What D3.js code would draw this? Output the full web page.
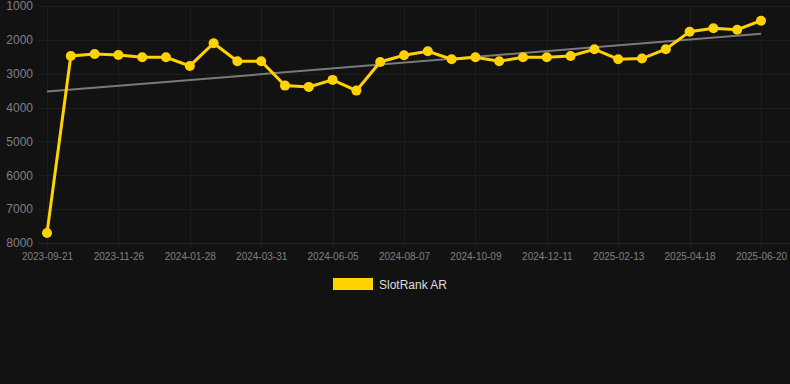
<!DOCTYPE html>
<html>
<head>
<meta charset="utf-8">
<script src="https://cdn.jsdelivr.net/npm/d3@7"></script>
<style>
  html, body { margin: 0; padding: 0; background: #121212; }
  svg { display: block; font-family: "Liberation Sans", Arial, sans-serif; }
</style>
</head>
<body>
<svg id="svg" width="790" height="384"></svg>
<script>
// rank values, one point every ~3 weeks
const rankValues = [7706, 2475, 2416, 2445, 2513, 2513, 2770, 2100, 2631, 2631,
  3351, 3389, 3183, 3499, 2652, 2455, 2336, 2572, 2513, 2631,
  2513, 2513, 2475, 2277, 2572, 2553, 2277, 1758, 1658, 1699, 1434]
const tickLabels = ['2023-09-21', '2023-11-26', '2024-01-28', '2024-03-31', '2024-06-05',
  '2024-08-07', '2024-10-09', '2024-12-11', '2025-02-13', '2025-04-18', '2025-06-20']
const yTicks = [1000, 2000, 3000, 4000, 5000, 6000, 7000, 8000]
const trendValues = [3528, 1817]
const seriesName = 'SlotRank AR'

const svg = d3.select('#svg')
const width = 790
const plotLeft = 38, plotTop = 6, plotBottom = 243, plotRight = 790

const x = d3.scalePoint()
  .domain(d3.range(rankValues.length))
  .range([47, 761])
const y = d3.scaleLinear().domain([1000, 8000]).range([plotTop, plotBottom])

svg.append('rect').attr('width', width).attr('height', 384).attr('fill', '#121212')

// grid
const grid = svg.append('g')
grid.selectAll('line.h')
  .data(yTicks)
  .enter().append('line')
  .attr('x1', plotLeft).attr('x2', plotRight)
  .attr('y1', d => Math.round(y(d)) + 0.5).attr('y2', d => Math.round(y(d)) + 0.5)
  .attr('stroke', d => d === 8000 ? '#262626' : '#1d1d1d').attr('stroke-width', 1)

const tickIdx = tickLabels.map((d, i) => i * 3)
grid.selectAll('line.v')
  .data(tickIdx)
  .enter().append('line')
  .attr('x1', d => Math.round(x(d)) + 0.5).attr('x2', d => Math.round(x(d)) + 0.5)
  .attr('y1', plotTop).attr('y2', plotBottom + 5)
  .attr('stroke', '#1d1d1d').attr('stroke-width', 1)

// y axis
const yAxis = svg.append('g')
  .attr('transform', `translate(${plotLeft - 2},0)`)
  .call(d3.axisLeft(y).tickValues(yTicks).tickSize(0).tickFormat(d3.format('d')))
yAxis.select('.domain').remove()
yAxis.selectAll('text').attr('fill', '#808080').style('font-size', '12px').attr('dx', 0)

// x axis
const xAxis = svg.append('g')
  .attr('transform', `translate(0,${plotBottom + 5})`)
  .call(d3.axisBottom(x).tickValues(tickIdx).tickSize(0).tickFormat((d, i) => tickLabels[i]))
xAxis.select('.domain').remove()
xAxis.selectAll('text').attr('fill', '#808080').style('font-size', '10px').attr('dy', '0.9em')

// trend line
svg.append('line')
  .attr('x1', x(0)).attr('x2', x(rankValues.length - 1))
  .attr('y1', y(trendValues[0])).attr('y2', y(trendValues[1]))
  .attr('stroke', '#7a7a7a').attr('stroke-width', 2)

// series line
const line = d3.line()
  .x((d, i) => x(i))
  .y(d => y(d))
svg.append('path')
  .datum(rankValues)
  .attr('d', line)
  .attr('fill', 'none')
  .attr('stroke', '#ffd200')
  .attr('stroke-width', 3)

svg.append('g')
  .selectAll('circle')
  .data(rankValues)
  .enter()
  .append('circle')
  .attr('cx', (d, i) => x(i))
  .attr('cy', d => y(d))
  .attr('r', 5)
  .attr('fill', '#ffd200')

// legend
const legend = svg.append('g')
legend.append('rect')
  .attr('x', 333).attr('y', 278).attr('width', 40).attr('height', 12)
  .attr('fill', '#ffd200')
legend.append('text')
  .attr('x', 379).attr('y', 288.5)
  .attr('fill', '#dddddd')
  .style('font-size', '12px')
  .text(seriesName)
</script>
</body>
</html>
